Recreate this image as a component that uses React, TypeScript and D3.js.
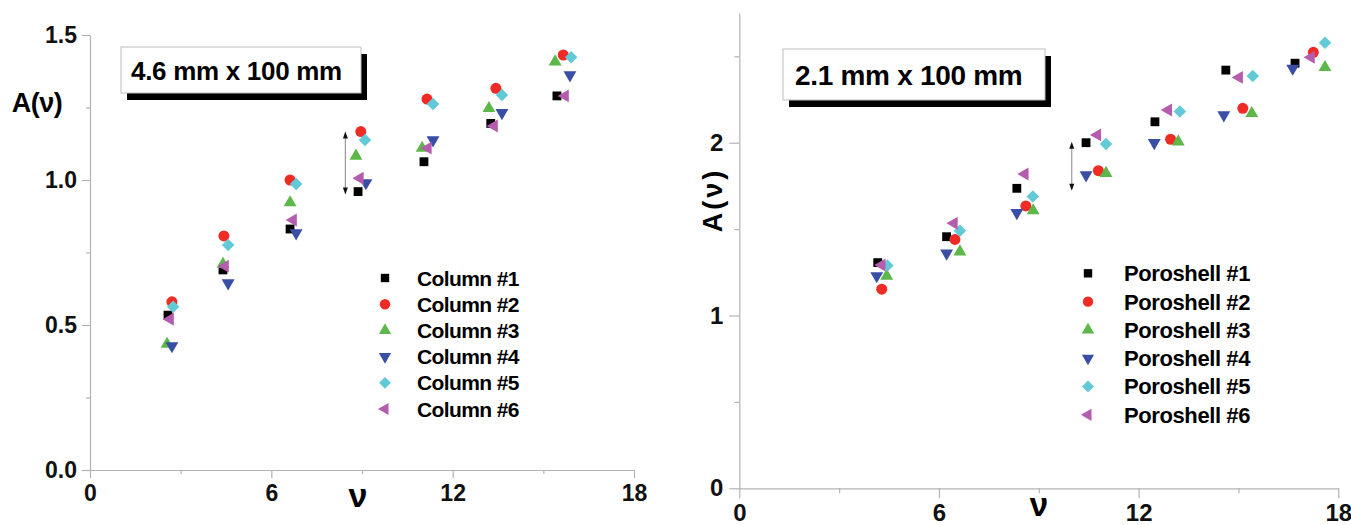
import React, { useEffect, useRef } from "react";
import * as d3 from "d3";

const seriesColors = ["#000000", "#ee2b25", "#5cb849", "#3a4ea6", "#62c9d7", "#b65cae"];
const columnNames = ["Column #1", "Column #2", "Column #3", "Column #4", "Column #5", "Column #6"];
const poroshellNames = ["Poroshell #1", "Poroshell #2", "Poroshell #3", "Poroshell #4", "Poroshell #5", "Poroshell #6"];

const xTicks = [0, 6, 12, 18];
const xMinorTicks = [3, 9, 15];
const leftYTicks = [0, 0.5, 1.0, 1.5];
const leftYMinor = [0.25, 0.75, 1.25];
const rightYTicks = [0, 1, 2];
const rightYMinor = [0.5, 1.5, 2.5];

// 4.6 mm x 100 mm columns, reduced velocity and A term
const leftNu = [
  [2.58, 4.4, 6.62, 8.87, 11.05, 13.26, 15.45],
  [2.71, 4.43, 6.62, 8.96, 11.15, 13.43, 15.66],
  [2.55, 4.4, 6.62, 8.8, 10.99, 13.2, 15.39],
  [2.71, 4.57, 6.82, 9.13, 11.35, 13.63, 15.88],
  [2.75, 4.57, 6.82, 9.1, 11.35, 13.63, 15.92],
  [2.65, 4.47, 6.72, 8.93, 11.18, 13.37, 15.72],
];
const leftA = [
  [0.534, 0.69, 0.831, 0.96, 1.063, 1.195, 1.29],
  [0.58, 0.807, 1.0, 1.167, 1.279, 1.316, 1.431],
  [0.434, 0.71, 0.922, 1.083, 1.11, 1.247, 1.408],
  [0.428, 0.645, 0.817, 0.99, 1.138, 1.232, 1.362],
  [0.563, 0.776, 0.986, 1.138, 1.262, 1.293, 1.423],
  [0.52, 0.703, 0.862, 1.006, 1.11, 1.186, 1.29],
];

// 2.1 mm x 100 mm Poroshell columns
const rightNu = [
  [4.16, 6.23, 8.34, 10.42, 12.49, 14.62, 16.7],
  [4.28, 6.48, 8.61, 10.79, 12.96, 15.13, 17.25],
  [4.43, 6.63, 8.83, 11.02, 13.19, 15.4, 17.6],
  [4.13, 6.23, 8.34, 10.42, 12.47, 14.56, 16.63],
  [4.45, 6.63, 8.82, 11.02, 13.24, 15.43, 17.6],
  [4.28, 6.45, 8.58, 10.76, 12.89, 15.02, 17.18],
];
const rightA = [
  [1.306, 1.456, 1.736, 2.0, 2.121, 2.42, 2.46],
  [1.152, 1.44, 1.634, 1.838, 2.02, 2.199, 2.523],
  [1.229, 1.369, 1.607, 1.823, 2.006, 2.17, 2.436],
  [1.229, 1.36, 1.595, 1.813, 2.0, 2.16, 2.43],
  [1.29, 1.49, 1.688, 1.992, 2.18, 2.386, 2.579],
  [1.292, 1.534, 1.819, 2.045, 2.189, 2.378, 2.494],
];

const FONT = "'Liberation Sans', Arial, Helvetica, sans-serif";
const AXIS_COLOR = "#b3b3b3";

// marker shape per series: square, circle, up, down, diamond, left
const markers = [
  { type: d3.symbolSquare, size: 78, rot: 0 },
  { type: d3.symbolCircle, size: 95, rot: 0 },
  { type: d3.symbolTriangle, size: 72, rot: 0 },
  { type: d3.symbolTriangle, size: 72, rot: 180 },
  { type: d3.symbolSquare, size: 78, rot: 45 },
  { type: d3.symbolTriangle, size: 72, rot: -90 },
];

function drawPanel(svg, p) {
  const x = d3.scaleLinear().domain([0, 18]).range(p.xRange);
  const y = d3.scaleLinear().domain(p.yDomain).range(p.yRange);
  const g = svg.append("g");

  // minor ticks
  g.append("g")
    .attr("transform", `translate(${p.xRange[0]},0)`)
    .call(d3.axisLeft(y).tickValues(p.yMinor).tickSize(p.minorLen).tickSizeOuter(0).tickFormat(() => ""))
    .call(s => s.select(".domain").remove());
  g.append("g")
    .attr("transform", `translate(0,${p.yRange[0]})`)
    .call(d3.axisBottom(x).tickValues(xMinorTicks).tickSize(p.minorLen).tickSizeOuter(0).tickFormat(() => ""))
    .call(s => s.select(".domain").remove());

  const yAxis = g.append("g")
    .attr("transform", `translate(${p.xRange[0]},0)`)
    .call(d3.axisLeft(y).tickValues(p.yTicks).tickSize(p.majorLen).tickSizeOuter(0).tickPadding(p.yPad).tickFormat(p.yFormat));
  const xAxis = g.append("g")
    .attr("transform", `translate(0,${p.yRange[0]})`)
    .call(d3.axisBottom(x).tickValues(xTicks).tickSize(p.majorLen).tickSizeOuter(0).tickPadding(p.xPad).tickFormat(d3.format("d")));

  g.selectAll("path, line").attr("stroke", AXIS_COLOR).attr("stroke-width", 1.2);
  [yAxis, xAxis].forEach(a => a.selectAll("text")
    .attr("font-family", FONT).attr("font-weight", "bold")
    .attr("font-size", p.tickFont).attr("fill", "#111"));

  // axis titles
  g.append("text")
    .attr("x", p.xTitle[0]).attr("y", p.xTitle[1])
    .attr("text-anchor", "middle")
    .attr("font-family", FONT).attr("font-weight", "bold").attr("font-size", p.nuFont)
    .text("ν");
  const yt = g.append("text")
    .attr("text-anchor", "middle")
    .attr("font-family", FONT).attr("font-weight", "bold").attr("font-size", p.yTitleFont)
    .attr("letter-spacing", p.yTitleSpacing)
    .text("A(ν)");
  if (p.yTitleRotate) {
    yt.attr("transform", `translate(${p.yTitle[0]},${p.yTitle[1]}) rotate(-90)`);
  } else {
    yt.attr("x", p.yTitle[0]).attr("y", p.yTitle[1]);
  }

  // title box with drop shadow
  const b = p.box;
  g.append("rect").attr("x", b.x + 6).attr("y", b.y + 7).attr("width", b.w).attr("height", b.h).attr("fill", "#000");
  g.append("rect").attr("x", b.x).attr("y", b.y).attr("width", b.w).attr("height", b.h)
    .attr("fill", "#fff").attr("stroke", "#bdbdbd").attr("stroke-width", 1);
  g.append("text")
    .attr("x", b.x + b.pad).attr("y", b.baseline)
    .attr("font-family", FONT).attr("font-weight", "bold").attr("font-size", b.font)
    .attr("letter-spacing", -0.3)
    .text(b.label);

  // spread arrow
  const ax = x(p.arrow.nu);
  const ay1 = y(p.arrow.top);
  const ay2 = y(p.arrow.bottom);
  g.append("line").attr("x1", ax).attr("x2", ax).attr("y1", ay1 + 3).attr("y2", ay2 - 3)
    .attr("stroke", "#999").attr("stroke-width", 1.2);
  g.append("path").attr("d", `M${ax},${ay1} l-2.5,7 l5,0 Z`).attr("fill", "#111");
  g.append("path").attr("d", `M${ax},${ay2} l-2.5,-7 l5,0 Z`).attr("fill", "#111");

  // points
  p.nu.forEach((xs, si) => {
    const m = markers[si];
    const path = d3.symbol(m.type, m.size)();
    g.append("g").selectAll("path")
      .data(xs.map((v, i) => [v, p.a[si][i]]))
      .enter()
      .append("path")
      .attr("d", path)
      .attr("fill", seriesColors[si])
      .attr("transform", d => `translate(${x(d[0])},${y(d[1])}) rotate(${m.rot})`);
  });

  // legend
  const lg = g.append("g");
  p.names.forEach((name, i) => {
    const cy = p.legend.y + i * p.legend.step;
    const m = markers[i];
    lg.append("path")
      .attr("d", d3.symbol(m.type, m.size * 0.9)())
      .attr("fill", seriesColors[i])
      .attr("transform", `translate(${p.legend.mx},${cy}) rotate(${m.rot})`);
    lg.append("text")
      .attr("x", p.legend.tx).attr("y", cy).attr("dy", "0.36em")
      .attr("font-family", FONT).attr("font-weight", "bold").attr("font-size", p.legend.font)
      .attr("letter-spacing", p.legend.spacing)
      .text(name);
  });
}

const App = () => {
  const ref = useRef(null);

  useEffect(() => {
    const svg = d3.select(ref.current);
    svg.selectAll("*").remove();

    drawPanel(svg, {
      xRange: [90, 634], yRange: [470, 35], yDomain: [0, 1.5],
      yTicks: leftYTicks, yMinor: leftYMinor, yFormat: d3.format(".1f"),
      majorLen: 8, minorLen: 4, yPad: 5, xPad: 7, tickFont: 23,
      xTitle: [358, 507], nuFont: 34,
      yTitle: [37, 112], yTitleFont: 27, yTitleSpacing: -0.5, yTitleRotate: false,
      box: { x: 121, y: 47, w: 240, h: 46, pad: 10, baseline: 80, font: 26, label: "4.6 mm x 100 mm" },
      arrow: { nu: 8.45, top: 1.167, bottom: 0.95 },
      nu: leftNu, a: leftA, names: columnNames,
      legend: { mx: 385, tx: 417, y: 278, step: 26.2, font: 21, spacing: -0.6 },
    });

    drawPanel(svg, {
      xRange: [739.3, 1338.3], yRange: [488.3, 13.1], yDomain: [0, 2.75],
      yTicks: rightYTicks, yMinor: rightYMinor, yFormat: d3.format("d"),
      majorLen: 10, minorLen: 5, yPad: 6, xPad: 6, tickFont: 24,
      xTitle: [1039, 516], nuFont: 33,
      yTitle: [722, 200], yTitleFont: 27, yTitleSpacing: 3, yTitleRotate: true,
      box: { x: 783, y: 49, w: 262, h: 51, pad: 12, baseline: 85, font: 28, label: "2.1 mm x 100 mm" },
      arrow: { nu: 9.99, top: 2.006, bottom: 1.722 },
      nu: rightNu, a: rightA, names: poroshellNames,
      legend: { mx: 1088, tx: 1124, y: 273.3, step: 28.3, font: 22, spacing: -0.4 },
    });
  }, []);

  return (
    <svg
      ref={ref}
      width={1351}
      height={525}
      style={{ position: "absolute", left: 0, top: 0, display: "block", background: "#fff" }}
    />
  );
};

export default App;
